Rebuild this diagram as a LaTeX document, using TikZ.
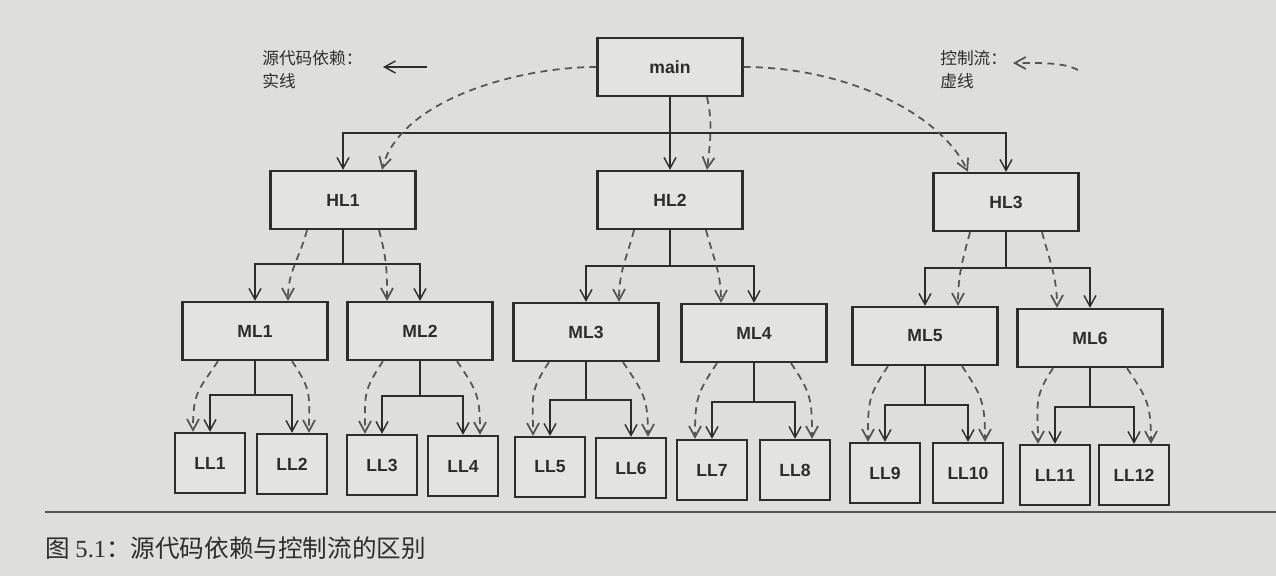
\documentclass[tikz,border=0pt]{standalone}
\usepackage{fontspec}
\setsansfont{Liberation Sans}
\setmainfont{Liberation Serif}
\newfontfamily\cjk{Noto Sans CJK SC}
\usepackage{tikz}
\usetikzlibrary{arrows.meta, calc}
\definecolor{paper}{RGB}{222,222,220}
\definecolor{boxgray}{RGB}{227,227,225}
\definecolor{inkdark}{RGB}{45,45,45}
\definecolor{inkmid}{RGB}{85,85,85}

\begin{document}
\begin{tikzpicture}[x=0.02cm, y=-0.02cm,
        basebox/.style={rectangle, draw=inkdark, fill=boxgray, line width=1.3pt, text=inkdark, font=\sffamily\bfseries\fontsize{10}{12}\selectfont},
        modbox/.style={basebox, minimum width=2.9cm, minimum height=1.16cm},
        leafbox/.style={basebox, minimum width=1.4cm, minimum height=1.2cm},
        dep/.style={-{Straight Barb[length=2.2mm, width=2.4mm]}, line width=0.8pt, color=inkdark},
        ctl/.style={-{Straight Barb[length=2.2mm, width=2.4mm]}, line width=1pt, color=inkmid, dash pattern=on 4pt off 3pt},
        legend/.style={anchor=west, inner sep=0pt, align=left, text=inkdark, font=\cjk\fontsize{9.5}{13}\selectfont}
      ]
        \fill[paper] (0,0) rectangle (1276,576);
        \useasboundingbox (0,0) rectangle (1276,576);

        % legend
        \node[legend] (srcnote) at (262,70) {源代码依赖：\\实线};
        \coordinate (srcA) at (427,67);
        \coordinate (srcB) at (383,67);
        \draw[dep] (srcA) -- (srcB);
        \node[legend] (ctlnote) at (940,70) {控制流：\\虚线};
        \coordinate (ctlA) at (1078,70);
        \coordinate (ctlB) at (1013,63);
        \draw[ctl] (ctlA) .. controls +(-15,-8) and +(25,0) .. (ctlB);

        % boxes
        \node[modbox] (main) at (670,67) {main};
        \node[modbox] (HL1) at (343,200) {HL1};
        \node[modbox] (HL2) at (670,200) {HL2};
        \node[modbox] (HL3) at (1006,202) {HL3};
        \foreach \i/\x/\y in {1/255/331, 2/420/331, 3/586/332, 4/754/333, 5/925/336, 6/1090/338}
          \node[modbox] (ML\i) at (\x,\y) {ML\i};
        \foreach \i/\x/\y in {1/210/463, 2/292/464, 3/382/465, 4/463/466, 5/550/467, 6/631/468,
                              7/712/470, 8/795/470, 9/885/473, 10/968/473, 11/1055/475, 12/1134/475}
          \node[leafbox] (LL\i) at (\x,\y) {LL\i};

        % main -> HL
        \draw[dep] (main) -- (HL2);
        \draw[dep] (main.south) |- (HL1.north |- 0,133) -- (HL1.north);
        \draw[dep] (main.south |- 0,133) -| (HL3.north);
        \draw[ctl] (main.west) .. controls +(-78,0) and +(18,-70) .. ($(HL1.north)+(39,0)$);
        \draw[ctl] ($(main.south)+(37,0)$) .. controls +(6,25) and +(3,-25) .. ($(HL2.north)+(37,0)$);
        \draw[ctl] (main.east) .. controls +(100,0) and +(-28,-60) .. ($(HL3.north)+(-38,0)$);

        % HL -> ML
        \foreach \p/\a/\b/\y in {HL1/ML1/ML2/264, HL2/ML3/ML4/266, HL3/ML5/ML6/268} {
          \draw[dep] (\p.south) |- (\a.north |- 0,\y) -- (\a.north);
          \draw[dep] (\p.south |- 0,\y) -| (\b.north);
          \draw[ctl] ($(\p.south)+(-36,0)$) .. controls +(-8,30) and +(0,-30) .. ($(\a.north)+(33,0)$);
          \draw[ctl] ($(\p.south)+(36,0)$) .. controls +(8,30) and +(0,-30) .. ($(\b.north)+(-33,0)$);
        }

        % ML -> LL
        \foreach \p/\a/\b/\y in {ML1/LL1/LL2/395, ML2/LL3/LL4/396, ML3/LL5/LL6/400,
                                 ML4/LL7/LL8/402, ML5/LL9/LL10/405, ML6/LL11/LL12/407} {
          \draw[dep] (\p.south) |- (\a.north |- 0,\y) -- (\a.north);
          \draw[dep] (\p.south |- 0,\y) -| (\b.north);
          \draw[ctl] ($(\p.south)+(-37,0)$) .. controls +(-20,30) and +(0,-40) .. ($(\a.north)+(-17,0)$);
          \draw[ctl] ($(\p.south)+(37,0)$) .. controls +(20,30) and +(0,-40) .. ($(\b.north)+(17,0)$);
        }

        % caption
        \coordinate (ruleL) at (45,512);
        \coordinate (ruleR) at (1276,512);
        \draw[inkmid, line width=0.8pt] (ruleL) -- (ruleR);
        \node[anchor=west, inner sep=0pt, text=inkdark, font=\cjk\fontsize{14}{16}\selectfont] (caption) at (45,548)
          {图 {\rmfamily 5.1}：源代码依赖与控制流的区别};
      \end{tikzpicture}
\end{document}
